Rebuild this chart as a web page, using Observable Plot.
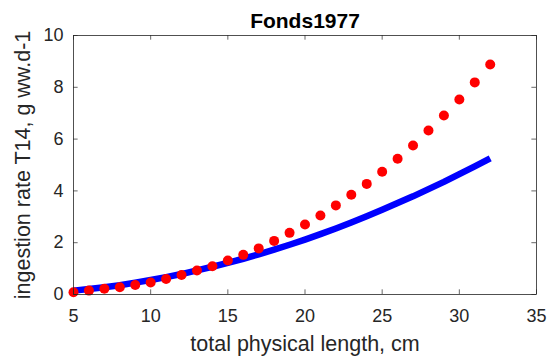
<!DOCTYPE html>
<html>
<head>
<meta charset="utf-8">
<script src="https://cdn.jsdelivr.net/npm/d3@7"></script>
<script src="https://cdn.jsdelivr.net/npm/@observablehq/plot@0.6"></script>
<style>
  html, body { margin: 0; padding: 0; background: #fff; }
  svg { display: block; }
</style>
</head>
<body>
<div id="chart"></div>
<script>
// Data
const dotLength = [5,6,7,8,9,10,11,12,13,14,15,16,17,18,19,20,21,22,23,24,25,26,27,28,29,30,31,32];
const dotRate   = [0.09,0.15,0.22,0.28,0.37,0.46,0.60,0.75,0.93,1.09,1.31,1.53,1.78,2.07,2.38,2.70,3.05,3.44,3.85,4.27,4.74,5.24,5.75,6.33,6.91,7.53,8.19,8.88];
const lineLength = [5,6,7,8,9,10,11,12,13,14,15,16,17,18,19,20,21,22,23,24,25,26,27,28,29,30,31,32];
const lineRate   = [0.15,0.21,0.28,0.36,0.46,0.56,0.67,0.79,0.93,1.07,1.22,1.38,1.55,1.73,1.92,2.12,2.33,2.55,2.78,3.02,3.27,3.53,3.79,4.07,4.35,4.65,4.95,5.26];
const xTicks = [5,10,15,20,25,30,35];
const yTicks = [0,2,4,6,8,10];
const titleText = "Fonds1977";
const xLabel = "total physical length, cm";
const yLabel = "ingestion rate T14, g ww.d-1";

const dots = dotLength.map((x, i) => ({x, y: dotRate[i]}));
const line = lineLength.map((x, i) => ({x, y: lineRate[i]}));

const ink = "#262626";
const font = "Liberation Sans, Arial, Helvetica, sans-serif";

const chart = Plot.plot({
  width: 549,
  height: 362,
  marginTop: 35,
  marginRight: 13,
  marginBottom: 68,
  marginLeft: 73,
  style: {fontFamily: font, color: ink, background: "#fff"},
  x: {domain: [5, 35], ticks: xTicks},
  y: {domain: [0, 10], ticks: yTicks},
  marks: [
    Plot.line(line, {x: "x", y: "y", stroke: "#0000ff", strokeWidth: 6.5, strokeLinecap: "butt"}),
    Plot.dot(dots, {x: "x", y: "y", r: 5, fill: "#ff0000", stroke: "none"}),
    // inward ticks (MATLAB style)
    Plot.ruleX(xTicks, {x: d => d, y1: 0, y2: 0.18, stroke: ink, strokeWidth: 0.7}),
    Plot.ruleX(xTicks, {x: d => d, y1: 10, y2: 9.82, stroke: ink, strokeWidth: 0.7}),
    Plot.ruleY(yTicks, {y: d => d, x1: 5, x2: 5.3, stroke: ink, strokeWidth: 0.7}),
    Plot.ruleY(yTicks, {y: d => d, x1: 35, x2: 34.7, stroke: ink, strokeWidth: 0.7}),
    Plot.frame({stroke: ink, strokeWidth: 0.8}),
    Plot.axisX({ticks: xTicks, tickSize: 0, tickPadding: 15, fontSize: 18, label: null, fill: ink}),
    Plot.axisY({ticks: yTicks, tickSize: 0, tickPadding: 10, fontSize: 18, label: null, fill: ink}),
    Plot.text([titleText], {frameAnchor: "top", dy: -14, fontSize: 21, fontWeight: "bold", fill: "#000", lineAnchor: "middle", textAnchor: "middle"}),
    Plot.text([xLabel], {frameAnchor: "bottom", dy: 50, fontSize: 21.5, fill: ink, lineAnchor: "middle", textAnchor: "middle"}),
    Plot.text([yLabel], {frameAnchor: "left", dx: -50, dy: 0, rotate: -90, fontSize: 21.5, fill: ink, lineAnchor: "middle", textAnchor: "middle"})
  ]
});
document.getElementById("chart").appendChild(chart);
</script>
</body>
</html>
